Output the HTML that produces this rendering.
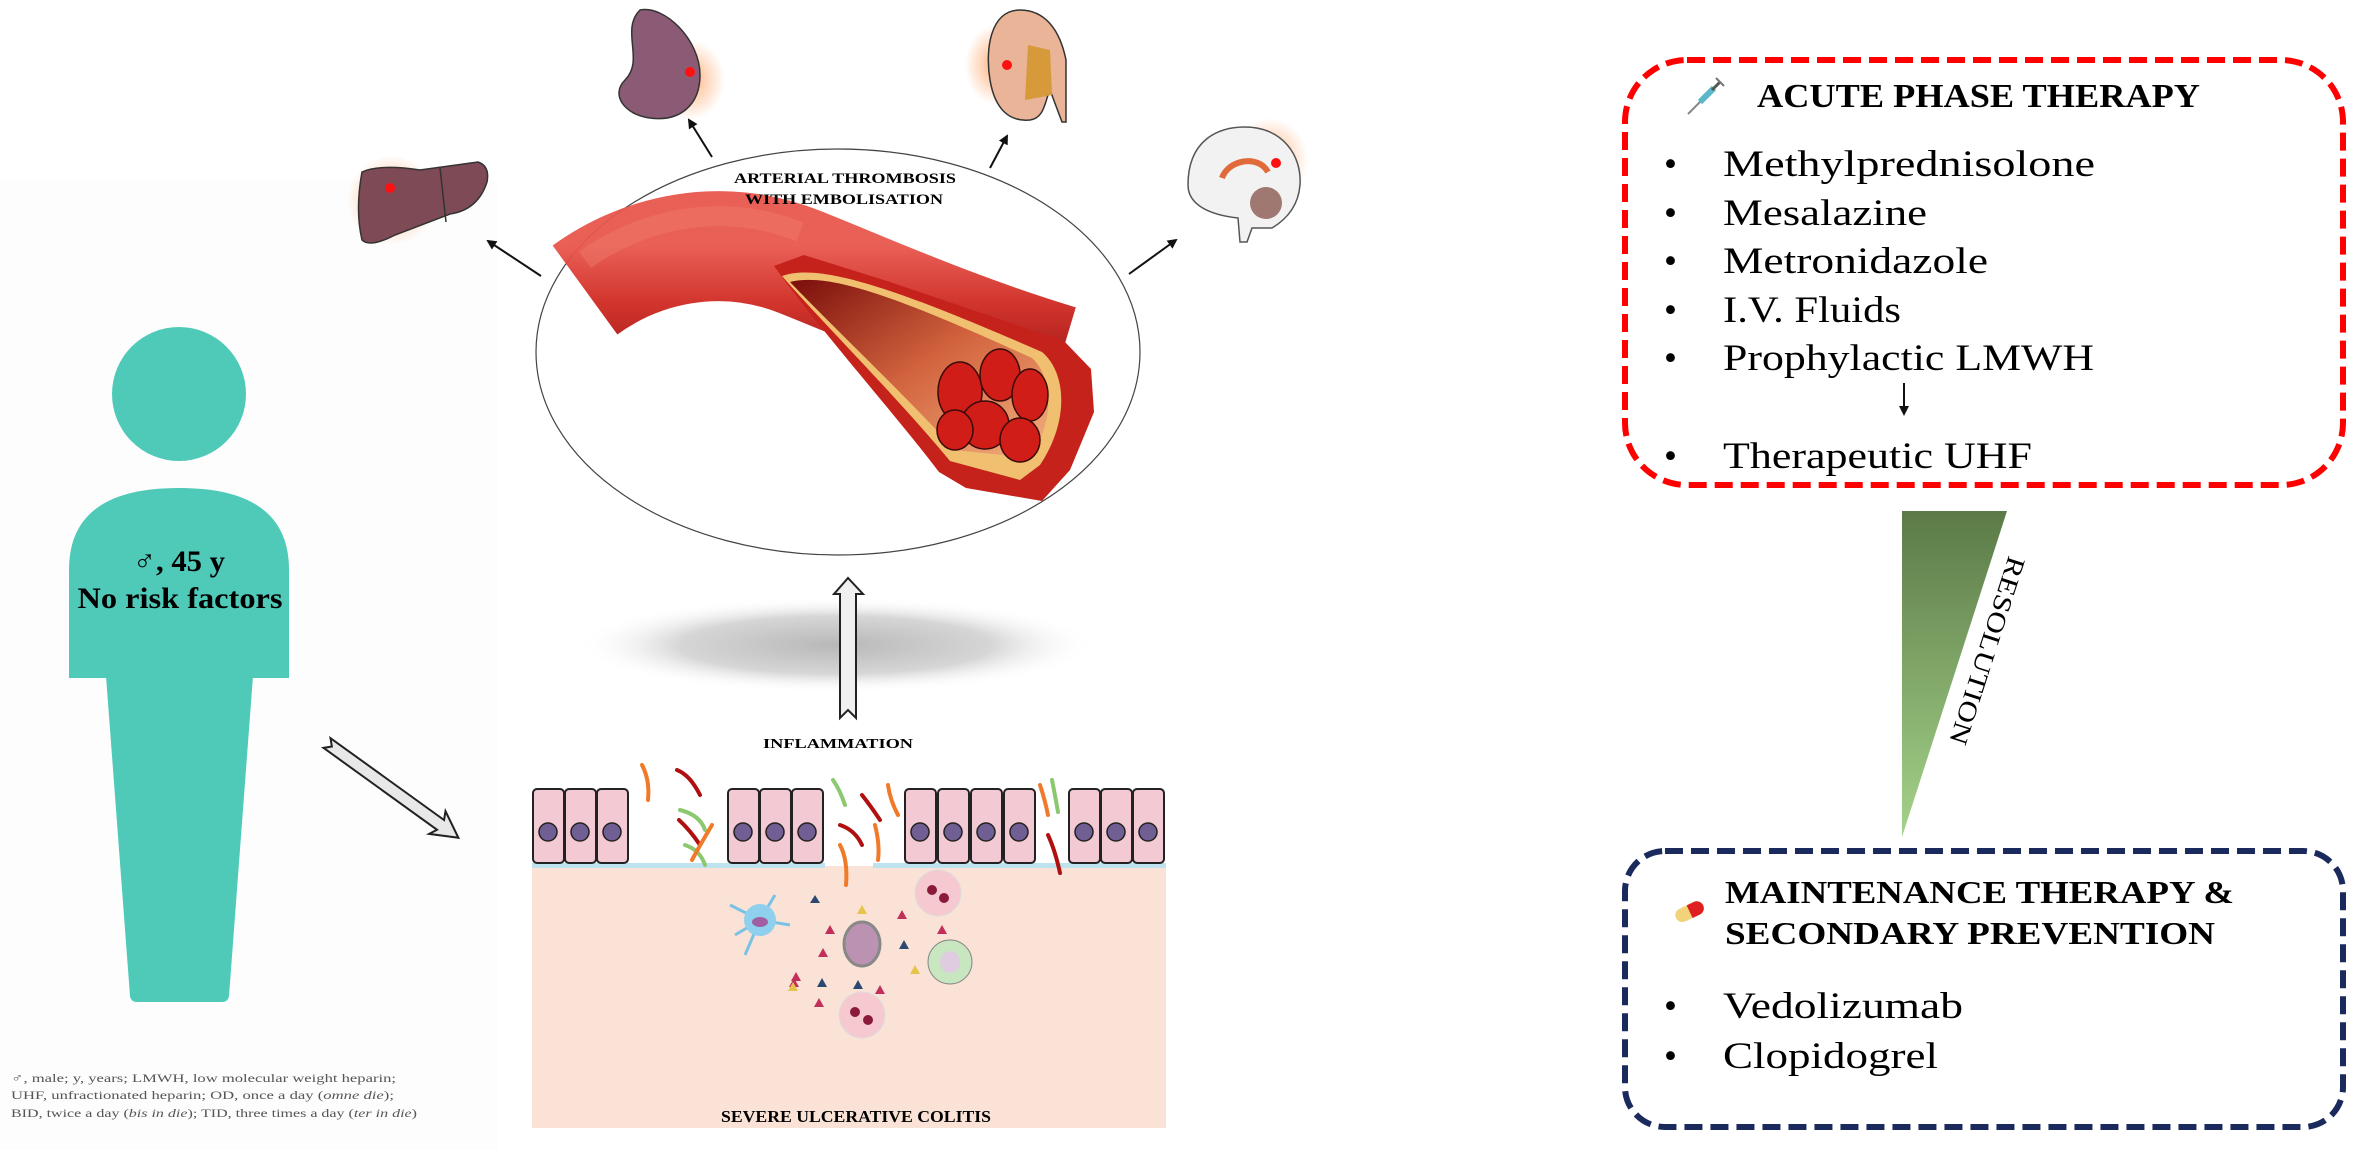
<!DOCTYPE html>
<html><head><meta charset="utf-8"><style>
html,body{margin:0;padding:0;background:#fff;}
svg{display:block;}
.s{font-family:"Liberation Serif","DejaVu Serif",serif;}
</style></head><body>
<svg width="2366" height="1150" viewBox="0 0 2366 1150" xmlns="http://www.w3.org/2000/svg" class="s">
<defs>
<linearGradient id="tri" x1="0" y1="0" x2="0" y2="1">
<stop offset="0" stop-color="#5b7a47"/><stop offset="1" stop-color="#a5d38a"/></linearGradient>
<radialGradient id="shadow" cx="0.5" cy="0.5" r="0.5">
<stop offset="0" stop-color="#b8b8b8"/><stop offset="0.6" stop-color="#d6d6d6"/><stop offset="1" stop-color="#fff" stop-opacity="0"/></radialGradient>
<linearGradient id="tube" x1="0" y1="0" x2="0" y2="1">
<stop offset="0" stop-color="#e8574d"/><stop offset="0.5" stop-color="#cf2a22"/><stop offset="1" stop-color="#a8120f"/></linearGradient>
<linearGradient id="lumen" x1="0" y1="0" x2="1" y2="1">
<stop offset="0" stop-color="#7a0d0a"/><stop offset="0.5" stop-color="#d2643f"/><stop offset="1" stop-color="#f3b080"/></linearGradient>
<radialGradient id="glow" cx="0.5" cy="0.5" r="0.5">
<stop offset="0" stop-color="#ffa060" stop-opacity="0.8"/><stop offset="1" stop-color="#ffa060" stop-opacity="0"/></radialGradient>
<marker id="ah" markerWidth="10" markerHeight="10" refX="8" refY="5" orient="auto" markerUnits="userSpaceOnUse">
<path d="M0,0 L10,5 L0,10 Z" fill="#111"/></marker>
</defs>

<rect x="0" y="180" width="498" height="970" fill="#fdfdfd"/>

<!-- Person -->
<g fill="#4fcab8">
<ellipse cx="179" cy="394" rx="67" ry="67"/>
<path d="M69,678 L69,570 C69,505 120,488 179,488 C238,488 289,505 289,570 L289,678 Z"/>
<path d="M106,676 L253,676 L229,996 Q228,1002 222,1002 L137,1002 Q131,1002 130,996 Z"/>
</g>
<text x="179" y="571" text-anchor="middle" font-size="30" font-weight="bold" textLength="92" lengthAdjust="spacingAndGlyphs">♂, 45 y</text>
<text x="180" y="608" text-anchor="middle" font-size="30" font-weight="bold" textLength="205" lengthAdjust="spacingAndGlyphs">No risk factors</text>

<g font-size="12" fill="#555">
<text x="11" y="1082" textLength="385" lengthAdjust="spacingAndGlyphs">♂, male; y, years; LMWH, low molecular weight heparin;</text>
<text x="11" y="1099" textLength="383" lengthAdjust="spacingAndGlyphs">UHF, unfractionated heparin; OD, once a day (<tspan font-style="italic">omne die</tspan>);</text>
<text x="11" y="1117" textLength="406" lengthAdjust="spacingAndGlyphs">BID, twice a day (<tspan font-style="italic">bis in die</tspan>); TID, three times a day (<tspan font-style="italic">ter in die</tspan>)</text>
</g>

<g transform="translate(327,743) rotate(35.8)">
<path d="M0,-6 L140,-6 L136,-14 L162,0 L136,14 L140,6 L0,6 L6,0 Z" fill="#e8e8e8" stroke="#222" stroke-width="2"/>
</g>

<ellipse cx="836" cy="645" rx="260" ry="48" fill="url(#shadow)"/>

<ellipse cx="838" cy="352" rx="302" ry="203" fill="#fff" stroke="#444" stroke-width="1.2"/>
<path d="M585,290 C640,250 720,230 800,262 C870,290 960,330 1060,360" fill="none" stroke="url(#tube)" stroke-width="110" stroke-linecap="butt" opacity="0.95"/>
<path d="M585,290 C640,250 720,230 800,262" fill="none" stroke="#f08070" stroke-width="20" opacity="0.4" transform="translate(0,-30)"/>
<path d="M774,266 L804,255 L890,282 L1064,341 L1091,369 L1094,412 L1070,470 L1042,501 L966,488 L939,472 C900,420 820,330 774,266 Z" fill="#c4221b"/>
<path d="M782,276 C820,262 900,290 1042,352 C1066,372 1070,420 1040,465 L1020,480 L950,461 C900,400 820,320 782,276 Z" fill="#f0c070"/>
<path d="M790,282 C830,272 900,298 1032,358 C1052,376 1056,420 1030,458 L955,450 C905,395 828,322 790,282 Z" fill="url(#lumen)"/>
<g fill="#d01d18" stroke="#3a0a08" stroke-width="1.5">
<ellipse cx="960" cy="392" rx="22" ry="30"/><ellipse cx="1000" cy="375" rx="20" ry="26"/>
<ellipse cx="1030" cy="395" rx="18" ry="26"/><ellipse cx="985" cy="425" rx="24" ry="24"/>
<ellipse cx="1020" cy="440" rx="20" ry="22"/><ellipse cx="955" cy="430" rx="18" ry="20"/>
</g>
<text x="845" y="183" text-anchor="middle" font-size="15" font-weight="bold" textLength="222" lengthAdjust="spacingAndGlyphs">ARTERIAL  THROMBOSIS</text>
<text x="844" y="204" text-anchor="middle" font-size="15" font-weight="bold" textLength="198" lengthAdjust="spacingAndGlyphs">WITH EMBOLISATION</text>

<!-- organs -->
<ellipse cx="392" cy="200" rx="45" ry="45" fill="url(#glow)"/>
<path d="M362,172 Q380,164 420,170 L478,162 Q490,166 487,182 Q478,210 450,214 L395,235 Q370,248 362,240 Q355,210 362,172 Z" fill="#7d4a55" stroke="#333" stroke-width="1.5"/>
<path d="M440,168 L446,222" stroke="#333" stroke-width="1.5"/>
<circle cx="390" cy="188" r="5" fill="#ff1010"/>
<ellipse cx="690" cy="80" rx="35" ry="40" fill="url(#glow)"/>
<path d="M640,10 C665,5 700,40 700,75 C700,105 680,122 650,118 C625,115 610,95 625,80 C645,60 620,30 640,10 Z" fill="#8b5a74" stroke="#333" stroke-width="1.5"/>
<circle cx="690" cy="72" r="5" fill="#ff1010"/>
<ellipse cx="995" cy="65" rx="30" ry="40" fill="url(#glow)"/>
<path d="M1020,10 C990,10 985,50 990,80 C995,110 1010,122 1030,120 C1045,118 1045,100 1050,90 L1062,122 L1066,122 L1066,60 C1060,30 1045,10 1020,10 Z" fill="#e9b497" stroke="#333" stroke-width="1.5"/>
<path d="M1028,45 L1050,50 L1052,95 L1025,100 Z" fill="#d69a3b"/>
<circle cx="1007" cy="65" r="5" fill="#ff1010"/>
<ellipse cx="1270" cy="160" rx="38" ry="42" fill="url(#glow)"/>
<path d="M1188,185 C1188,140 1218,127 1245,127 C1282,127 1302,155 1300,185 C1298,210 1282,222 1272,228 L1252,228 L1247,242 L1240,242 L1238,218 C1210,215 1188,205 1188,185 Z" fill="#f2f2f2" stroke="#555" stroke-width="1.5"/>
<path d="M1222,178 C1228,160 1258,154 1268,172" fill="none" stroke="#e06a3a" stroke-width="6"/>
<circle cx="1266" cy="203" r="16" fill="#8a5a50" opacity="0.8"/>
<circle cx="1276" cy="163" r="5" fill="#ff1010"/>

<g stroke="#111" stroke-width="2" marker-end="url(#ah)">
<line x1="541" y1="276" x2="488" y2="241"/>
<line x1="712" y1="157" x2="689" y2="120"/>
<line x1="990" y1="168" x2="1007" y2="136"/>
<line x1="1129" y1="274" x2="1176" y2="240"/>
</g>

<path d="M840,718 L840,594 L834,594 L848,578 L863,594 L856,594 L856,718 L848,710 Z" fill="#f0f0f0" stroke="#222" stroke-width="2"/>
<text x="838" y="748" text-anchor="middle" font-size="14" font-weight="bold" textLength="150" lengthAdjust="spacingAndGlyphs">INFLAMMATION</text>

<rect x="532" y="866" width="634" height="262" fill="#fae3d6"/>
<rect x="532" y="863" width="293" height="5" fill="#bfe3ee"/>
<rect x="873" y="863" width="293" height="5" fill="#bfe3ee"/>
<g fill="#f3c9d3" stroke="#222" stroke-width="2">
<rect x="533" y="789" width="31" height="74" rx="4"/><rect x="565" y="789" width="31" height="74" rx="4"/><rect x="597" y="789" width="31" height="74" rx="4"/>
<rect x="728" y="789" width="31" height="74" rx="4"/><rect x="760" y="789" width="31" height="74" rx="4"/><rect x="792" y="789" width="31" height="74" rx="4"/>
<rect x="905" y="789" width="31" height="74" rx="4"/><rect x="938" y="789" width="31" height="74" rx="4"/><rect x="971" y="789" width="31" height="74" rx="4"/><rect x="1004" y="789" width="31" height="74" rx="4"/>
<rect x="1069" y="789" width="31" height="74" rx="4"/><rect x="1101" y="789" width="31" height="74" rx="4"/><rect x="1133" y="789" width="31" height="74" rx="4"/>
</g>
<g fill="#6f5f93" stroke="#222" stroke-width="1.5">
<circle cx="548" cy="832" r="9"/><circle cx="580" cy="832" r="9"/><circle cx="612" cy="832" r="9"/>
<circle cx="743" cy="832" r="9"/><circle cx="775" cy="832" r="9"/><circle cx="807" cy="832" r="9"/>
<circle cx="920" cy="832" r="9"/><circle cx="953" cy="832" r="9"/><circle cx="986" cy="832" r="9"/><circle cx="1019" cy="832" r="9"/>
<circle cx="1084" cy="832" r="9"/><circle cx="1116" cy="832" r="9"/><circle cx="1148" cy="832" r="9"/>
</g>
<g fill="none" stroke-width="4" stroke-linecap="round">
<path d="M642,765 Q650,780 648,800" stroke="#f07a2a"/>
<path d="M677,770 Q690,775 700,795" stroke="#b01010"/>
<path d="M679,820 Q690,830 700,845" stroke="#b01010"/>
<path d="M680,810 Q700,815 705,830" stroke="#8cc870"/>
<path d="M685,845 Q700,850 705,865" stroke="#8cc870"/>
<path d="M712,825 Q700,845 692,860" stroke="#f07a2a"/>
<path d="M833,780 Q840,790 845,805" stroke="#8cc870"/>
<path d="M862,795 Q870,805 880,820" stroke="#b01010"/>
<path d="M888,785 Q890,800 898,815" stroke="#f07a2a"/>
<path d="M840,825 Q855,830 862,845" stroke="#b01010"/>
<path d="M840,845 Q848,860 846,885" stroke="#f07a2a"/>
<path d="M875,825 Q880,845 878,860" stroke="#f07a2a"/>
<path d="M1040,785 Q1045,800 1048,815" stroke="#f07a2a"/>
<path d="M1052,780 Q1055,795 1058,812" stroke="#8cc870"/>
<path d="M1048,835 Q1055,850 1060,873" stroke="#b01010"/>
</g>
<g stroke="#79c2e6" stroke-width="3" fill="none">
<path d="M760,920 L730,905 M760,920 L745,955 M760,920 L790,925 M760,920 L775,895 M760,920 L735,935"/>
</g>
<circle cx="760" cy="920" r="16" fill="#8ed0ee"/><ellipse cx="760" cy="922" rx="8" ry="5" fill="#a05fa0"/>
<ellipse cx="862" cy="944" rx="18" ry="22" fill="#bb92b2" stroke="#888" stroke-width="3"/>
<circle cx="938" cy="893" r="23" fill="#f6c8d0" stroke="#ddd"/>
<circle cx="862" cy="1015" r="23" fill="#f6c8d0" stroke="#ddd"/>
<circle cx="950" cy="962" r="22" fill="#c8e6c0" stroke="#888"/><ellipse cx="950" cy="962" rx="10" ry="11" fill="#e0cce0"/>
<g fill="#8b1a3a"><circle cx="932" cy="890" r="5"/><circle cx="944" cy="898" r="5"/><circle cx="855" cy="1012" r="5"/><circle cx="868" cy="1020" r="5"/></g>
<g>
<path d="M815,895 l5,8 h-10z" fill="#2b4870"/><path d="M862,905 l5,9 h-10z" fill="#e6c34a"/>
<path d="M830,925 l5,9 h-10z" fill="#c0305a"/><path d="M823,948 l5,9 h-10z" fill="#c0305a"/>
<path d="M904,940 l5,9 h-10z" fill="#2b4870"/><path d="M915,965 l5,9 h-10z" fill="#e6c34a"/>
<path d="M796,972 l5,9 h-10z" fill="#c0305a"/><path d="M794,978 l5,9 h-10z" fill="#c0305a"/>
<path d="M793,982 l5,9 h-10z" fill="#e6c34a"/><path d="M822,978 l5,9 h-10z" fill="#2b4870"/>
<path d="M858,980 l5,9 h-10z" fill="#2b4870"/><path d="M880,985 l5,9 h-10z" fill="#c0305a"/>
<path d="M819,998 l5,9 h-10z" fill="#c0305a"/><path d="M902,910 l5,9 h-10z" fill="#c0305a"/>
<path d="M942,925 l5,9 h-10z" fill="#c0305a"/>
</g>
<text x="856" y="1122" text-anchor="middle" font-size="17" font-weight="bold" textLength="270" lengthAdjust="spacingAndGlyphs">SEVERE  ULCERATIVE  COLITIS</text>

<rect x="1625" y="60" width="718" height="425" rx="62" fill="none" stroke="#ff0000" stroke-width="6" stroke-dasharray="18,8"/>
<g transform="translate(1688,72)">
<line x1="0" y1="42" x2="14" y2="28" stroke="#888" stroke-width="2"/>
<line x1="12" y1="30" x2="26" y2="16" stroke="#5bb8c8" stroke-width="6"/>
<line x1="24" y1="18" x2="32" y2="10" stroke="#555" stroke-width="3"/>
<line x1="28" y1="6" x2="36" y2="14" stroke="#777" stroke-width="2"/>
</g>
<text x="1757" y="107" font-size="34" font-weight="bold" textLength="443" lengthAdjust="spacingAndGlyphs">ACUTE PHASE THERAPY</text>
<g font-size="37">
<text x="1664" y="176">•</text><text x="1723" y="176" textLength="372" lengthAdjust="spacingAndGlyphs">Methylprednisolone</text>
<text x="1664" y="225">•</text><text x="1723" y="225" textLength="204" lengthAdjust="spacingAndGlyphs">Mesalazine</text>
<text x="1664" y="273">•</text><text x="1723" y="273" textLength="265" lengthAdjust="spacingAndGlyphs">Metronidazole</text>
<text x="1664" y="322">•</text><text x="1723" y="322" textLength="178" lengthAdjust="spacingAndGlyphs">I.V. Fluids</text>
<text x="1664" y="370">•</text><text x="1723" y="370" textLength="371" lengthAdjust="spacingAndGlyphs">Prophylactic LMWH</text>
<text x="1664" y="468">•</text><text x="1723" y="468" textLength="309" lengthAdjust="spacingAndGlyphs">Therapeutic UHF</text>
</g>
<line x1="1904" y1="383" x2="1904" y2="414" stroke="#111" stroke-width="2" marker-end="url(#ah)"/>

<polygon points="1902,511 2007,511 1902,837" fill="url(#tri)"/>
<text transform="translate(1979,648) rotate(107.8)" text-anchor="middle" font-size="26" textLength="196" lengthAdjust="spacingAndGlyphs">RESOLUTION</text>

<rect x="1625" y="851" width="718" height="276" rx="40" fill="none" stroke="#1b2a5c" stroke-width="6" stroke-dasharray="18,8"/>
<g transform="translate(1676,918) rotate(-25)">
<rect x="0" y="-7" width="30" height="14" rx="7" fill="#f2d37a"/>
<path d="M15,-7 L23,-7 A7,7 0 0 1 23,7 L15,7 Z" fill="#e02020"/>
</g>
<g font-size="32" font-weight="bold">
<text x="1725" y="903" textLength="509" lengthAdjust="spacingAndGlyphs">MAINTENANCE THERAPY &amp;</text>
<text x="1725" y="944" textLength="490" lengthAdjust="spacingAndGlyphs">SECONDARY PREVENTION</text>
</g>
<g font-size="37">
<text x="1664" y="1018">•</text><text x="1723" y="1018" textLength="240" lengthAdjust="spacingAndGlyphs">Vedolizumab</text>
<text x="1664" y="1068">•</text><text x="1723" y="1068" textLength="215" lengthAdjust="spacingAndGlyphs">Clopidogrel</text>
</g>
</svg>
</body></html>
